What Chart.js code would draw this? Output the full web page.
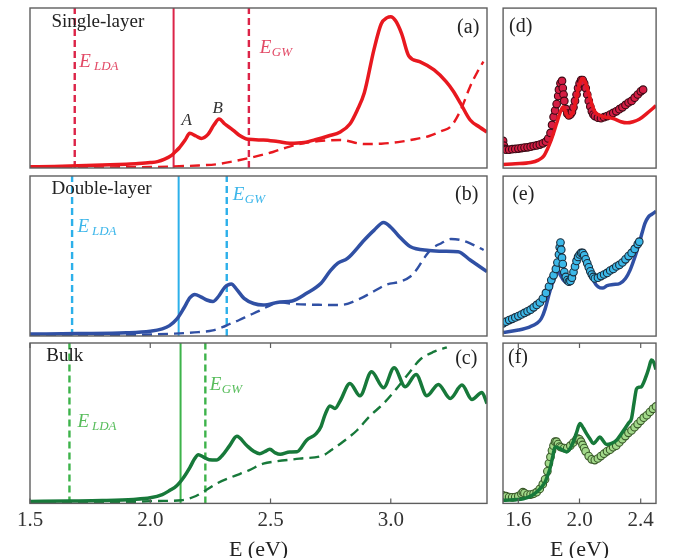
<!DOCTYPE html>
<html>
<head>
<meta charset="utf-8">
<script src="https://cdn.jsdelivr.net/npm/chart.js@4.4.1/dist/chart.umd.min.js"></script>
<style>
  html, body { margin: 0; padding: 0; background: #fff; }
  #fig { position: relative; width: 676px; height: 558px; overflow: hidden; background: #fff; }
  .panel { position: absolute; }
</style>
</head>
<body>
<div id="fig">
  <div class="panel" id="pa"><canvas id="ca"></canvas></div>
  <div class="panel" id="pb"><canvas id="cb"></canvas></div>
  <div class="panel" id="pc"><canvas id="cc"></canvas></div>
  <div class="panel" id="pd"><canvas id="cd"></canvas></div>
  <div class="panel" id="pe"><canvas id="ce"></canvas></div>
  <div class="panel" id="pf"><canvas id="cf"></canvas></div>
</div>
<script>
/* global Chart */

// ---- tick labels ----
const leftTicks = [1.5, 2.0, 2.5, 3.0];
const rightTicks = [1.6, 2.0, 2.4];

// ---- band-gap markers (eV) for single, double, bulk ----
const ldaE = [1.686, 1.675, 1.664];
const optE = [2.097, 2.118, 2.126];
const gwE = [2.41, 2.318, 2.229];

// ---- (a) single layer ----
const aSolidE = [1.50, 1.60, 1.70, 1.80, 1.90, 1.95, 2.00, 2.03, 2.06, 2.09, 2.10, 2.12, 2.145, 2.164, 2.19, 2.212, 2.24, 2.265, 2.286, 2.31, 2.344, 2.37, 2.407, 2.47, 2.53, 2.58, 2.64, 2.69, 2.74, 2.79, 2.83, 2.86, 2.89, 2.93, 2.96, 2.985, 3.00, 3.02, 3.045, 3.075, 3.12, 3.18, 3.23, 3.26, 3.29, 3.33, 3.37, 3.40];
const aSolidV = [0.008, 0.01, 0.014, 0.018, 0.024, 0.028, 0.034, 0.04, 0.055, 0.08, 0.095, 0.125, 0.175, 0.217, 0.2, 0.185, 0.21, 0.27, 0.306, 0.275, 0.237, 0.205, 0.179, 0.175, 0.165, 0.155, 0.16, 0.178, 0.2, 0.225, 0.275, 0.36, 0.47, 0.74, 0.90, 0.94, 0.946, 0.92, 0.84, 0.70, 0.665, 0.613, 0.54, 0.48, 0.404, 0.30, 0.255, 0.225];
const aDashE = [1.50, 1.80, 2.00, 2.10, 2.20, 2.28, 2.34, 2.41, 2.46, 2.51, 2.56, 2.62, 2.70, 2.79, 2.89, 2.96, 3.03, 3.10, 3.16, 3.21, 3.25, 3.29, 3.33, 3.36, 3.385];
const aDashV = [0.003, 0.004, 0.006, 0.01, 0.016, 0.024, 0.04, 0.062, 0.08, 0.10, 0.125, 0.15, 0.168, 0.175, 0.15, 0.152, 0.162, 0.18, 0.2, 0.23, 0.26, 0.36, 0.51, 0.6, 0.665];

// ---- (b) double layer ----
const bSolidE = [1.50, 1.70, 1.90, 2.00, 2.05, 2.08, 2.11, 2.14, 2.165, 2.185, 2.21, 2.235, 2.26, 2.285, 2.31, 2.337, 2.36, 2.39, 2.43, 2.47, 2.54, 2.59, 2.65, 2.71, 2.75, 2.78, 2.82, 2.89, 2.93, 2.97, 3.00, 3.03, 3.08, 3.16, 3.22, 3.28, 3.33, 3.40];
const bSolidV = [0.012, 0.015, 0.02, 0.03, 0.045, 0.065, 0.105, 0.175, 0.24, 0.26, 0.245, 0.225, 0.215, 0.25, 0.305, 0.325, 0.29, 0.235, 0.203, 0.194, 0.213, 0.219, 0.267, 0.33, 0.41, 0.455, 0.485, 0.60, 0.66, 0.71, 0.68, 0.63, 0.56, 0.535, 0.53, 0.527, 0.475, 0.402];
const bDashE = [1.50, 1.90, 2.10, 2.20, 2.26, 2.30, 2.33, 2.37, 2.41, 2.45, 2.49, 2.54, 2.60, 2.70, 2.79, 2.87, 2.93, 2.98, 3.04, 3.08, 3.11, 3.14, 3.17, 3.21, 3.25, 3.29, 3.33, 3.386];
const bDashV = [0.004, 0.006, 0.015, 0.024, 0.035, 0.055, 0.075, 0.10, 0.128, 0.155, 0.185, 0.21, 0.2, 0.195, 0.194, 0.232, 0.28, 0.32, 0.34, 0.37, 0.42, 0.49, 0.545, 0.58, 0.606, 0.6, 0.579, 0.5375];

// ---- (c) bulk ----
const cSolidE = [1.50, 1.66, 1.80, 1.93, 2.00, 2.05, 2.08, 2.11, 2.14, 2.165, 2.185, 2.20, 2.22, 2.245, 2.275, 2.30, 2.33, 2.36, 2.40, 2.43, 2.455, 2.475, 2.497, 2.52, 2.54, 2.58, 2.61, 2.65, 2.69, 2.71, 2.726, 2.747, 2.768, 2.79, 2.83, 2.872, 2.92, 2.97, 3.014, 3.06, 3.105, 3.15, 3.198, 3.247, 3.296, 3.337, 3.379, 3.40];
const cSolidV = [0.012, 0.015, 0.018, 0.025, 0.035, 0.055, 0.08, 0.11, 0.165, 0.225, 0.28, 0.303, 0.29, 0.272, 0.27, 0.30, 0.36, 0.418, 0.3625, 0.325, 0.31, 0.322, 0.3375, 0.315, 0.306, 0.321, 0.322, 0.394, 0.435, 0.48, 0.55, 0.608, 0.592, 0.64, 0.748, 0.671, 0.821, 0.721, 0.846, 0.727, 0.804, 0.671, 0.742, 0.654, 0.7375, 0.648, 0.692, 0.623];
const cDashE = [1.50, 1.90, 2.03, 2.13, 2.19, 2.23, 2.275, 2.34, 2.41, 2.47, 2.525, 2.62, 2.72, 2.75, 2.80, 2.86, 2.91, 2.97, 3.025, 3.08, 3.12, 3.18, 3.233];
const cDashV = [0.004, 0.008, 0.015, 0.02, 0.046, 0.081, 0.123, 0.165, 0.206, 0.248, 0.2625, 0.279, 0.30, 0.33, 0.383, 0.456, 0.54, 0.623, 0.717, 0.821, 0.894, 0.946, 0.973];

// ---- (d) single layer vs experiment ----
const dCalcE = [1.50, 1.58, 1.68, 1.73, 1.765, 1.79, 1.81, 1.83, 1.85, 1.87, 1.893, 1.91, 1.926, 1.945, 1.96, 1.975, 1.99, 2.005, 2.02, 2.04, 2.057, 2.08, 2.10, 2.13, 2.16, 2.22, 2.27, 2.31, 2.35, 2.39, 2.44, 2.50];
const dCalcV = [0.023, 0.027, 0.035, 0.05, 0.075, 0.12, 0.165, 0.22, 0.28, 0.34, 0.383, 0.35, 0.32, 0.33, 0.362, 0.42, 0.49, 0.54, 0.56, 0.53, 0.477, 0.40, 0.352, 0.33, 0.32, 0.31, 0.29, 0.283, 0.29, 0.305, 0.342, 0.39];
const dExpE = [1.50, 1.505, 1.51, 1.52, 1.54, 1.56, 1.58, 1.60, 1.62, 1.64, 1.66, 1.68, 1.70, 1.72, 1.74, 1.76, 1.78, 1.795, 1.81, 1.82, 1.83, 1.84, 1.85, 1.86, 1.865, 1.875, 1.885, 1.89, 1.895, 1.90, 1.91, 1.92, 1.93, 1.94, 1.95, 1.96, 1.97, 1.98, 1.99, 2.00, 2.01, 2.02, 2.03, 2.04, 2.05, 2.06, 2.07, 2.08, 2.09, 2.10, 2.12, 2.14, 2.16, 2.18, 2.20, 2.22, 2.24, 2.26, 2.28, 2.30, 2.32, 2.34, 2.36, 2.38, 2.40, 2.415];
const dExpV = [0.17, 0.14, 0.12, 0.115, 0.115, 0.118, 0.12, 0.122, 0.125, 0.128, 0.13, 0.134, 0.138, 0.142, 0.147, 0.155, 0.165, 0.185, 0.22, 0.27, 0.32, 0.36, 0.40, 0.45, 0.49, 0.53, 0.545, 0.50, 0.46, 0.42, 0.37, 0.34, 0.33, 0.335, 0.35, 0.38, 0.42, 0.46, 0.50, 0.53, 0.55, 0.55, 0.53, 0.50, 0.46, 0.42, 0.385, 0.355, 0.335, 0.325, 0.315, 0.312, 0.318, 0.325, 0.335, 0.345, 0.355, 0.368, 0.38, 0.395, 0.41, 0.42, 0.44, 0.46, 0.48, 0.49];

// ---- (e) double layer vs experiment ----
const eCalcE = [1.50, 1.60, 1.676, 1.72, 1.75, 1.775, 1.796, 1.815, 1.83, 1.855, 1.875, 1.894, 1.915, 1.937, 1.96, 1.981, 2.003, 2.024, 2.045, 2.068, 2.095, 2.122, 2.15, 2.18, 2.22, 2.263, 2.30, 2.33, 2.36, 2.383, 2.41, 2.427, 2.45, 2.47, 2.50];
const eCalcV = [0.023, 0.038, 0.058, 0.08, 0.11, 0.17, 0.246, 0.31, 0.35, 0.408, 0.38, 0.35, 0.335, 0.34, 0.40, 0.475, 0.515, 0.527, 0.49, 0.4125, 0.34, 0.308, 0.30, 0.315, 0.322, 0.329, 0.36, 0.4125, 0.49, 0.558, 0.65, 0.704, 0.745, 0.76, 0.78];
const eExpE = [1.50, 1.52, 1.54, 1.56, 1.58, 1.60, 1.62, 1.64, 1.66, 1.68, 1.70, 1.72, 1.74, 1.76, 1.78, 1.80, 1.815, 1.83, 1.845, 1.855, 1.865, 1.87, 1.875, 1.88, 1.885, 1.89, 1.90, 1.91, 1.92, 1.93, 1.94, 1.95, 1.96, 1.97, 1.98, 1.99, 2.00, 2.01, 2.02, 2.03, 2.04, 2.05, 2.06, 2.07, 2.08, 2.09, 2.10, 2.12, 2.14, 2.16, 2.18, 2.20, 2.22, 2.24, 2.26, 2.28, 2.30, 2.32, 2.34, 2.36, 2.38, 2.39];
const eExpV = [0.08, 0.09, 0.10, 0.108, 0.117, 0.125, 0.135, 0.145, 0.155, 0.165, 0.18, 0.195, 0.21, 0.235, 0.27, 0.31, 0.35, 0.38, 0.42, 0.46, 0.51, 0.555, 0.585, 0.54, 0.49, 0.45, 0.40, 0.37, 0.35, 0.34, 0.345, 0.365, 0.40, 0.435, 0.47, 0.495, 0.51, 0.52, 0.52, 0.505, 0.48, 0.455, 0.43, 0.405, 0.385, 0.37, 0.36, 0.365, 0.375, 0.385, 0.395, 0.41, 0.42, 0.435, 0.445, 0.46, 0.48, 0.50, 0.52, 0.545, 0.575, 0.59];

// ---- (f) bulk vs experiment ----
const fCalcE = [1.50, 1.633, 1.69, 1.72, 1.75, 1.775, 1.79, 1.807, 1.825, 1.84, 1.855, 1.872, 1.895, 1.916, 1.94, 1.959, 1.98, 2.003, 2.025, 2.046, 2.07, 2.09, 2.11, 2.133, 2.155, 2.176, 2.21, 2.242, 2.27, 2.297, 2.32, 2.34, 2.357, 2.373, 2.39, 2.405, 2.42, 2.438, 2.455, 2.47, 2.485, 2.50];
const fCalcV = [0.019, 0.029, 0.05, 0.071, 0.10, 0.133, 0.17, 0.217, 0.29, 0.352, 0.35, 0.342, 0.33, 0.321, 0.345, 0.383, 0.44, 0.498, 0.47, 0.435, 0.40, 0.373, 0.39, 0.415, 0.39, 0.367, 0.375, 0.394, 0.43, 0.467, 0.50, 0.53, 0.63, 0.715, 0.725, 0.728, 0.755, 0.80, 0.85, 0.894, 0.88, 0.835];
const fExpE = [1.50, 1.52, 1.54, 1.56, 1.58, 1.60, 1.62, 1.63, 1.64, 1.66, 1.68, 1.70, 1.72, 1.74, 1.76, 1.775, 1.79, 1.80, 1.81, 1.82, 1.83, 1.84, 1.85, 1.86, 1.87, 1.88, 1.90, 1.92, 1.94, 1.96, 1.98, 1.99, 2.00, 2.01, 2.02, 2.03, 2.04, 2.06, 2.08, 2.10, 2.12, 2.14, 2.16, 2.18, 2.20, 2.22, 2.24, 2.26, 2.28, 2.30, 2.32, 2.34, 2.36, 2.38, 2.40, 2.42, 2.44, 2.46, 2.48, 2.50];
const fExpV = [0.05, 0.045, 0.04, 0.038, 0.04, 0.045, 0.06, 0.07, 0.065, 0.055, 0.055, 0.06, 0.07, 0.09, 0.12, 0.15, 0.20, 0.25, 0.29, 0.33, 0.36, 0.385, 0.385, 0.37, 0.355, 0.35, 0.345, 0.345, 0.36, 0.38, 0.40, 0.405, 0.40, 0.385, 0.365, 0.345, 0.325, 0.295, 0.275, 0.27, 0.28, 0.295, 0.31, 0.325, 0.335, 0.35, 0.36, 0.38, 0.40, 0.42, 0.44, 0.455, 0.475, 0.495, 0.515, 0.535, 0.55, 0.57, 0.59, 0.605];

// ---- styling ----
const SERIF = "'Liberation Serif', 'Times New Roman', serif";
const colors = {
  red: '#e8181f', redLine: '#dc2448', redText: '#e24a66', redDot: '#d41e44', redEdge: '#3a0a14',
  blue: '#3050a4', blueLine: '#2cb0ea', blueText: '#3cb6ea', blueDot: '#3cb8e8', blueEdge: '#1a2c3c',
  green: '#17793a', greenLine: '#3db34a', greenText: '#58bd5c', greenDot: '#a2d98a', greenEdge: '#3a5a2a'
};

function pts(E, V) {
  return E.map((e, i) => ({ x: e, y: V[i] }));
}

function vline(e) {
  return [{ x: e, y: 0 }, { x: e, y: 1 }];
}

function curve(data, color, dashed) {
  return {
    data: data, showLine: true, borderColor: color,
    borderWidth: dashed ? 2.4 : 3.5, borderDash: dashed ? [10, 6] : [],
    pointRadius: 0, cubicInterpolationMode: 'monotone', borderCapStyle: 'butt'
  };
}

function marker(e, color, dashed) {
  return {
    data: vline(e), showLine: true, borderColor: color,
    borderWidth: dashed ? 2.4 : 2, borderDash: dashed ? [7, 4] : [], pointRadius: 0
  };
}

function dots(data, fill, edge) {
  return {
    data: data, showLine: false, pointRadius: 3.8, pointBorderWidth: 1.1,
    pointBackgroundColor: fill, pointBorderColor: edge
  };
}

// frame, inward ticks and text labels
function decor(notes, innerTicks) {
  return {
    id: 'decor',
    afterDatasetsDraw(chart) {
      const ctx = chart.ctx;
      const a = chart.chartArea;
      const sx = chart.scales.x, sy = chart.scales.y;
      ctx.save();
      ctx.strokeStyle = '#5e5e5e';
      ctx.lineWidth = 1.4;
      ctx.strokeRect(a.left, a.top, a.right - a.left, a.bottom - a.top);
      if (innerTicks) {
        ctx.lineWidth = 1.2;
        sx.ticks.forEach(t => {
          const px = sx.getPixelForValue(t.value);
          ctx.beginPath();
          ctx.moveTo(px, a.bottom); ctx.lineTo(px, a.bottom - 5);
          ctx.moveTo(px, a.top); ctx.lineTo(px, a.top + 5);
          ctx.stroke();
        });
      }
      notes.forEach(n => {
        const px = sx.getPixelForValue(n.x);
        const py = sy.getPixelForValue(n.y);
        ctx.fillStyle = n.color || '#222';
        ctx.font = n.font;
        ctx.textAlign = n.align || 'left';
        ctx.textBaseline = 'alphabetic';
        ctx.fillText(n.t, px, py);
        if (n.sub) {
          const w = ctx.measureText(n.t).width;
          ctx.font = 'italic 13px ' + SERIF;
          ctx.fillText(n.sub, px + w + n.gap, py + 3);
        }
      });
      ctx.restore();
    }
  };
}

function makePanel(key, box, range, datasets, notes, ticks) {
  const div = document.getElementById('p' + key);
  const bottom = !!ticks;
  const pad = bottom ? { left: 22, right: 22, top: 3, bottom: 3 } : { left: 3, right: 3, top: 3, bottom: 3 };
  div.style.width = (box.w + pad.left + pad.right) + 'px';
  div.style.height = (box.h + pad.top + pad.bottom + (bottom ? 56 : 0)) + 'px';
  div.style.left = (box.l - pad.left) + 'px';
  div.style.top = (box.t - pad.top) + 'px';

  const xScale = {
    type: 'linear', min: range[0], max: range[1], display: bottom,
    grid: { display: false, drawTicks: false },
    border: { display: false }
  };
  if (bottom) {
    xScale.afterBuildTicks = s => { s.ticks = ticks.map(v => ({ value: v })); };
    xScale.ticks = {
      color: '#333', font: { family: SERIF, size: 21 }, padding: 4,
      maxRotation: 0, autoSkip: false, callback: v => Number(v).toFixed(1)
    };
    xScale.title = {
      display: true, text: 'E (eV)', color: '#222',
      font: { family: SERIF, size: 22 }, padding: { top: 0, bottom: 0 }
    };
  }

  const chart = new Chart(document.getElementById('c' + key), {
    type: 'scatter',
    data: { datasets: datasets },
    options: {
      responsive: true,
      maintainAspectRatio: false,
      animation: false,
      events: [],
      layout: { padding: pad },
      plugins: { legend: { display: false }, tooltip: { enabled: false } },
      scales: {
        x: xScale,
        y: { type: 'linear', min: 0, max: 1, display: false }
      }
    },
    plugins: [decor(notes, bottom)]
  });

  // make the plot area land exactly on the target box
  for (let k = 0; k < 2; k++) {
    const a = chart.chartArea;
    div.style.width = (div.offsetWidth + box.w - (a.right - a.left)) + 'px';
    div.style.height = (div.offsetHeight + box.h - (a.bottom - a.top)) + 'px';
    chart.resize();
  }
  const a = chart.chartArea;
  div.style.left = (box.l - a.left) + 'px';
  div.style.top = (box.t - a.top) + 'px';
  return chart;
}

const F_LABEL = '19px ' + SERIF;
const F_TAG = '20px ' + SERIF;
const F_E = 'italic 19px ' + SERIF;
const F_AB = 'italic 17px ' + SERIF;

function initCharts() {
  makePanel('a', { l: 30, t: 8, w: 457, h: 160 }, [1.5, 3.4], [
    curve(pts(aSolidE, aSolidV), colors.red, false),
    curve(pts(aDashE, aDashV), colors.red, true),
    marker(optE[0], colors.redLine, false),
    marker(ldaE[0], colors.redLine, true),
    marker(gwE[0], colors.redLine, true)
  ], [
    { t: 'Single-layer', x: 1.589, y: 0.881, font: F_LABEL },
    { t: '(a)', x: 3.368, y: 0.844, font: F_TAG, align: 'right' },
    { t: 'E', sub: 'LDA', gap: 3, x: 1.705, y: 0.631, font: F_E, color: colors.redText },
    { t: 'E', sub: 'GW', gap: 0.5, x: 2.455, y: 0.719, font: F_E, color: colors.redText },
    { t: 'A', x: 2.13, y: 0.269, font: F_AB, color: '#333' },
    { t: 'B', x: 2.259, y: 0.344, font: F_AB, color: '#333' }
  ], null);

  makePanel('b', { l: 30, t: 176, w: 457, h: 160 }, [1.5, 3.4], [
    curve(pts(bSolidE, bSolidV), colors.blue, false),
    curve(pts(bDashE, bDashV), colors.blue, true),
    marker(optE[1], colors.blueLine, false),
    marker(ldaE[1], colors.blueLine, true),
    marker(gwE[1], colors.blueLine, true)
  ], [
    { t: 'Double-layer', x: 1.589, y: 0.8875, font: F_LABEL },
    { t: '(b)', x: 3.364, y: 0.85, font: F_TAG, align: 'right' },
    { t: 'E', sub: 'LDA', gap: 3, x: 1.697, y: 0.65, font: F_E, color: colors.blueText },
    { t: 'E', sub: 'GW', gap: 0.5, x: 2.343, y: 0.85, font: F_E, color: colors.blueText }
  ], null);

  makePanel('c', { l: 30, t: 343, w: 457, h: 160 }, [1.5, 3.4], [
    curve(pts(cSolidE, cSolidV), colors.green, false),
    curve(pts(cDashE, cDashV), colors.green, true),
    marker(optE[2], colors.greenLine, false),
    marker(ldaE[2], colors.greenLine, true),
    marker(gwE[2], colors.greenLine, true)
  ], [
    { t: 'Bulk', x: 1.568, y: 0.8875, font: F_LABEL },
    { t: '(c)', x: 3.36, y: 0.869, font: F_TAG, align: 'right' },
    { t: 'E', sub: 'LDA', gap: 3, x: 1.697, y: 0.475, font: F_E, color: colors.greenText },
    { t: 'E', sub: 'GW', gap: 0.5, x: 2.247, y: 0.706, font: F_E, color: colors.greenText }
  ], leftTicks);

  makePanel('d', { l: 503, t: 8, w: 153, h: 160 }, [1.5, 2.5], [
    curve(pts(dCalcE, dCalcV), colors.red, false),
    dots(pts(dExpE, dExpV), colors.redDot, colors.redEdge)
  ], [
    { t: '(d)', x: 1.539, y: 0.85, font: F_TAG }
  ], null);

  makePanel('e', { l: 503, t: 176, w: 153, h: 160 }, [1.5, 2.5], [
    dots(pts(eExpE, eExpV), colors.blueDot, colors.blueEdge),
    curve(pts(eCalcE, eCalcV), colors.blue, false)
  ], [
    { t: '(e)', x: 1.559, y: 0.85, font: F_TAG }
  ], null);

  makePanel('f', { l: 503, t: 343, w: 153, h: 160 }, [1.5, 2.5], [
    curve(pts(fCalcE, fCalcV), colors.green, false),
    dots(pts(fExpE, fExpV), colors.greenDot, colors.greenEdge)
  ], [
    { t: '(f)', x: 1.533, y: 0.875, font: F_TAG }
  ], rightTicks);
}

if (typeof Chart !== 'undefined') {
  initCharts();
}
</script>
</body>
</html>
